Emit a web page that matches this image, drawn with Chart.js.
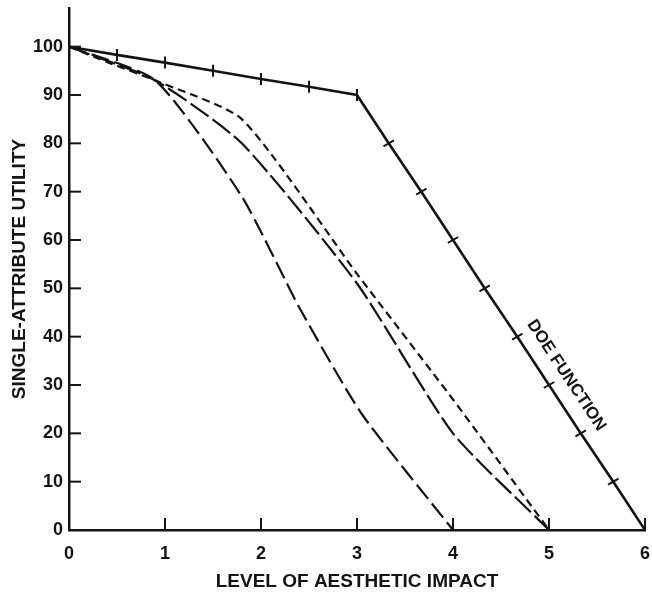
<!DOCTYPE html>
<html>
<head>
<meta charset="utf-8">
<script src="https://cdn.jsdelivr.net/npm/chart.js@4/dist/chart.umd.min.js"></script>
<style>
    html, body { margin: 0; padding: 0; background: #fff; }
    canvas { display: block; }
</style>
</head>
<body>
<canvas id="utilityChart" width="652" height="598"></canvas>
<script>
// valores
const xTicks = [0, 1, 2, 3, 4, 5, 6];
const yTicks = [0, 10, 20, 30, 40, 50, 60, 70, 80, 90, 100];

// DOE function (con las marcas a lo largo de la linea)
const doeX = [0, 0.5, 1, 1.5, 2, 2.5, 3, 3.33, 3.67, 4, 4.33, 4.67, 5, 5.33, 5.67, 6];
const doeY = [100, 98.3, 96.7, 95, 93.3, 91.7, 90, 80, 70, 60, 50, 40, 30, 20, 10, 0];

// curvas discontinuas
const longX = [0, 0.9, 1.8, 2.4, 3.05, 4];
const longY = [100, 93, 69, 46, 24, 0];
const midX = [0, 0.9, 1.8, 3, 4, 5];
const midY = [100, 93, 80, 51, 20, 0];
const shortX = [0, 0.4, 0.9, 1.8, 3, 4, 5];
const shortY = [100, 96.8, 93, 85, 53, 27, 0];

const doeLabel = 'DOE FUNCTION';
const ink = '#141414';

function puntos(xs, ys) {
    return xs.map((x, i) => ({ x: x, y: ys[i] }));
}

const extras = {
    id: 'extras',
    afterDatasetsDraw(chart) {
        const ctx = chart.ctx;
        const x = chart.scales.x;
        const y = chart.scales.y;
        ctx.save();
        ctx.strokeStyle = ink;
        ctx.lineWidth = 2;
        // marcas hacia dentro
        yTicks.forEach(v => {
            if (v === 0) return;
            const py = y.getPixelForValue(v);
            ctx.beginPath();
            ctx.moveTo(x.left, py);
            ctx.lineTo(x.left + 12, py);
            ctx.stroke();
        });
        xTicks.forEach(v => {
            if (v === 0) return;
            const px = x.getPixelForValue(v);
            ctx.beginPath();
            ctx.moveTo(px, y.bottom);
            ctx.lineTo(px, y.bottom - 12);
            ctx.stroke();
        });
        // etiqueta DOE FUNCTION
        const ax = x.getPixelForValue(3), ay = y.getPixelForValue(90);
        const bx = x.getPixelForValue(6), by = y.getPixelForValue(0);
        const ang = Math.atan2(by - ay, bx - ax);
        ctx.translate(x.getPixelForValue(5.18), y.getPixelForValue(32));
        ctx.rotate(ang);
        ctx.fillStyle = ink;
        ctx.font = 'bold 17px "Liberation Sans", Arial, sans-serif';
        ctx.textAlign = 'center';
        ctx.textBaseline = 'middle';
        ctx.fillText(doeLabel, 0, 0);
        ctx.restore();
    }
};

const ultimo = doeX.length - 1;

function sinRelleno(scale) {
    scale.paddingLeft = 0;
    scale.paddingRight = 0;
    scale.paddingTop = 0;
    scale.paddingBottom = 0;
}

new Chart(document.getElementById('utilityChart').getContext('2d'), {
    type: 'line',
    data: {
        datasets: [{
            label: 'DOE',
            data: puntos(doeX, doeY),
            borderColor: ink,
            borderWidth: 2.6,
            tension: 0,
            pointStyle: 'line',
            pointRadius: ctx => (ctx.dataIndex === 0 || ctx.dataIndex === ultimo) ? 0 : 6,
            pointRotation: ctx => doeX[ctx.dataIndex] <= 3 ? 90 : -30,
            pointBorderColor: ink,
            pointBorderWidth: 2,
            pointHoverRadius: 6
        }, {
            label: 'A',
            data: puntos(longX, longY),
            borderColor: ink,
            borderWidth: 2.2,
            borderDash: [18, 6],
            tension: 0.2,
            pointRadius: 0
        }, {
            label: 'B',
            data: puntos(midX, midY),
            borderColor: ink,
            borderWidth: 2.2,
            borderDash: [22, 5],
            tension: 0.2,
            pointRadius: 0
        }, {
            label: 'C',
            data: puntos(shortX, shortY),
            borderColor: ink,
            borderWidth: 2.2,
            borderDash: [8, 5],
            tension: 0.2,
            pointRadius: 0
        }]
    },
    options: {
        responsive: false,
        animation: false,
        devicePixelRatio: 1,
        layout: { padding: { left: 0, right: 7, top: 8, bottom: 0 } },
        plugins: {
            legend: { display: false },
            tooltip: { enabled: false }
        },
        scales: {
            x: {
                type: 'linear',
                min: 0,
                max: 6,
                afterBuildTicks: scale => { scale.ticks = xTicks.map(v => ({ value: v })); },
                afterFit: scale => { scale.height = 68; sinRelleno(scale); },
                grid: { display: true, drawOnChartArea: false, drawTicks: false },
                border: { display: true, color: ink, width: 2.5 },
                ticks: {
                    color: ink,
                    padding: 13,
                    maxRotation: 0,
                    font: { family: '"Liberation Sans", Arial, sans-serif', size: 18, weight: 'bold' }
                },
                title: {
                    display: true,
                    text: 'LEVEL OF AESTHETIC IMPACT',
                    color: ink,
                    padding: { top: 0, bottom: 5 },
                    font: { family: '"Liberation Sans", Arial, sans-serif', size: 19, weight: 'bold' }
                }
            },
            y: {
                min: 0,
                max: 108,
                afterBuildTicks: scale => { scale.ticks = yTicks.map(v => ({ value: v })); },
                afterFit: scale => { scale.width = 69; sinRelleno(scale); },
                grid: { display: true, drawOnChartArea: false, drawTicks: false },
                border: { display: true, color: ink, width: 2.5 },
                ticks: {
                    color: ink,
                    padding: 6,
                    font: { family: '"Liberation Sans", Arial, sans-serif', size: 18, weight: 'bold' }
                },
                title: {
                    display: true,
                    text: 'SINGLE-ATTRIBUTE UTILITY',
                    color: ink,
                    padding: { top: 8, bottom: 0 },
                    font: { family: '"Liberation Sans", Arial, sans-serif', size: 19, weight: 'bold' }
                }
            }
        }
    },
    plugins: [extras]
});
</script>
</body>
</html>
